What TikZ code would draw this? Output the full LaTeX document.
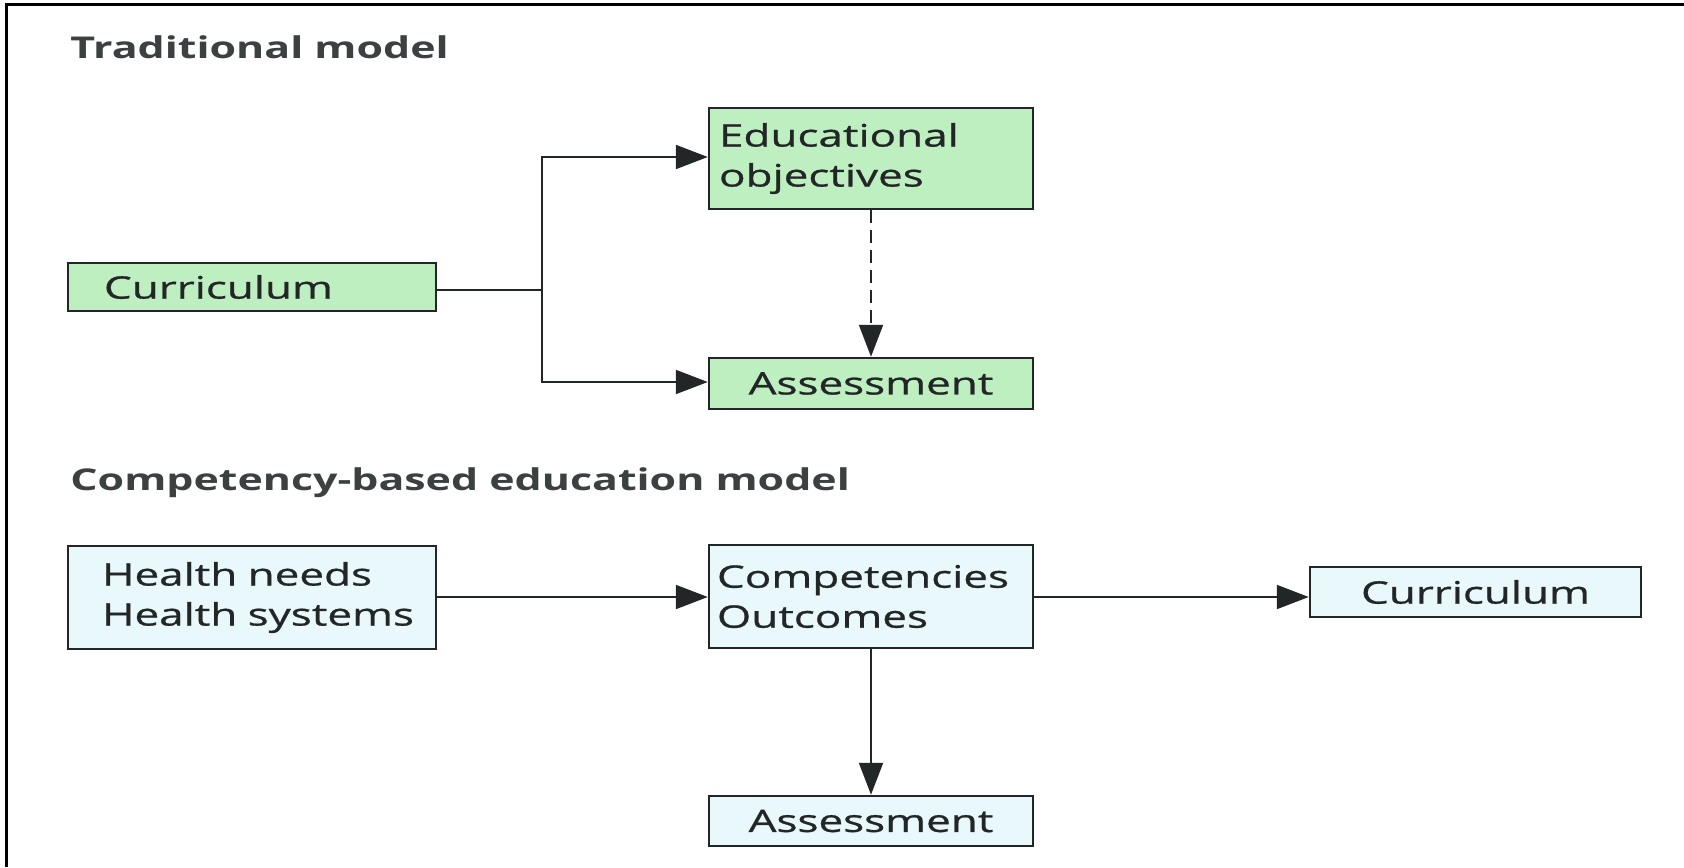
\documentclass[tikz,border=0pt]{standalone}
\usepackage{fontspec}
\setmainfont{Open Sans}[FakeStretch=1.42, FakeBold=0.8]
\newfontfamily\headfont{Open Sans}[FakeStretch=1.43, UprightFont=*, BoldFont=* Bold]
\usetikzlibrary{arrows.meta}
\definecolor{boxgreen}{RGB}{190,239,193}
\definecolor{boxblue}{RGB}{232,248,251}
\definecolor{ink}{RGB}{35,38,38}
\tikzset{
  box/.style={draw=ink, line width=1.25pt, inner ysep=0pt, font=\fontsize{15.5}{20}\selectfont, text=ink},
  gbox/.style={box, fill=boxgreen},
  bbox/.style={box, fill=boxblue},
  conn/.style={draw=ink, line width=1pt},
  arr/.style={conn, -{Triangle[length=16pt,width=12pt]}},
  heading/.style={anchor=west, inner sep=0pt, font=\fontsize{15}{18}\headfont\bfseries, text=ink!88}
}
\begin{document}
\begin{tikzpicture}[x=0.5pt,y=-0.5pt]
\useasboundingbox (0,0) rectangle (1684,867);
\fill[white] (0,0) rectangle (1684,867);
\draw[line width=1.5pt, black] (6,867) -- (6,4) -- (1684,4);

\node[heading] (t1) at (70,47) {Traditional model};
\node[heading] (t2) at (70,483) {Competency-based education model};

% traditional
\node[gbox, minimum height=24pt, text width=148pt, inner xsep=18pt, align=left] (cur1) at (252,287) {Curriculum};
\node[gbox, minimum height=50.5pt, text width=152pt, inner xsep=5pt, align=left] (edu) at (871,158.5) {\mbox{Educational}\\objectives};
\node[gbox, minimum height=25.5pt, minimum width=162pt, inner xsep=0pt] (ass1) at (871,383.5) {Assessment};

\coordinate (br) at (542,290);
\draw[conn] (cur1.east |- br) -- (br);
\draw[arr] (br) |- (edu.west |- 0,157);
\draw[arr] (br) |- (ass1.west |- 0,382);
\draw[arr, dash pattern=on 6.5pt off 3.5pt] (edu.south) -- (ass1.north);

% competency-based
\node[bbox, minimum height=51.5pt, text width=150pt, inner xsep=17pt, align=left] (health) at (252,597.5) {\mbox{Health needs}\\\mbox{Health systems}};
\node[bbox, minimum height=51.5pt, text width=154pt, inner xsep=4pt, align=left] (comp) at (871,596.5) {\mbox{Competencies}\\Outcomes};
\node[bbox, minimum height=25pt, minimum width=165.5pt, inner xsep=0pt] (cur2) at (1475.5,592) {Curriculum};
\node[bbox, minimum height=25pt, minimum width=162pt, inner xsep=0pt] (ass2) at (871,821) {Assessment};

\draw[arr] (health.east |- 0,597) -- (comp.west |- 0,597);
\draw[arr] (comp.east |- 0,597) -- (cur2.west |- 0,597);
\draw[arr] (comp.south) -- (ass2.north);
\end{tikzpicture}
\end{document}
